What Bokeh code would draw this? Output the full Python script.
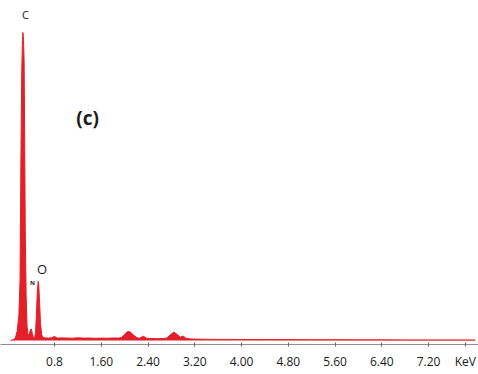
from bokeh.plotting import figure
from bokeh.models import FixedTicker, Label, Range1d
from bokeh.embed import file_html
from bokeh.resources import INLINE

# Spectrum (energy in keV, counts in arbitrary units)
energy = [0.05, 0.10, 0.13, 0.16, 0.19, 0.21, 0.225, 0.24, 0.25, 0.26, 0.27,
          0.28, 0.29, 0.30, 0.315, 0.33, 0.345, 0.36, 0.375, 0.39, 0.405,
          0.42, 0.44, 0.46, 0.475, 0.49, 0.505, 0.52, 0.53, 0.545, 0.56,
          0.58, 0.60, 0.65, 0.70, 0.75, 0.80, 0.85, 0.90, 1.00, 1.10, 1.20,
          1.30, 1.40, 1.50, 1.60, 1.70, 1.80, 1.90, 1.95, 2.00, 2.05, 2.10,
          2.15, 2.20, 2.25, 2.32, 2.38, 2.45, 2.55, 2.65, 2.72, 2.78, 2.84,
          2.90, 2.95, 3.00, 3.05, 3.12, 3.20, 3.40, 3.60, 3.80, 4.00, 4.40,
          4.80, 5.20, 5.60, 6.00, 6.40, 6.80, 7.20, 7.60, 8.00]
counts = [0, 10, 25, 90, 250, 600, 1800, 2700, 2950, 3080, 3000,
          2800, 2000, 1100, 450, 150, 60, 55, 80, 110, 115,
          70, 30, 28, 80, 250, 480, 590, 560, 380, 180,
          60, 30, 26, 24, 28, 40, 24, 26, 25, 23, 27,
          24, 25, 22, 24, 23, 25, 24, 32, 60, 90, 85,
          55, 32, 22, 42, 22, 20, 18, 20, 24, 55, 84,
          60, 32, 45, 22, 16, 14, 12, 11, 11, 10, 9,
          9, 8, 8, 7, 7, 6, 6, 6, 5]

tick_values = [0.8, 1.6, 2.4, 3.2, 4.0, 4.8, 5.6, 6.4, 7.2, 7.83]
tick_labels = ["0.8", "1.60", "2.40", "3.20", "4.00", "4.80", "5.60", "6.40",
               "7.20", "KeV"]

RED = "#e3202a"
FONT = "Open Sans"

p = figure(frame_width=478, frame_height=344, output_backend="svg",
           toolbar_location=None, min_border=0, min_border_bottom=30,
           x_range=Range1d(-0.124, 8.055), y_range=Range1d(-40, 3400))
p.outline_line_color = None
p.grid.visible = False
p.yaxis.visible = False

p.varea(x=energy, y1=0, y2=counts, color=RED)
p.line(x=energy, y=counts, color=RED, line_width=1)

ax = p.xaxis[0]
ax.ticker = FixedTicker(ticks=tick_values)
ax.major_label_overrides = {t: l for t, l in zip(tick_values, tick_labels)}
ax.minor_tick_line_color = None
ax.axis_line_color = "#8f8f8f"
ax.major_tick_line_color = "#666666"
ax.major_tick_in = 2
ax.major_tick_out = 2
ax.major_label_standoff = 6
ax.major_label_text_font = FONT
ax.major_label_text_font_size = "12px"
ax.major_label_text_color = "#1a1a1a"

def add_label(x, y, text, size, bold=False):
    p.add_layout(Label(x=x, y=y, text=text, text_font=FONT, text_font_size=size,
                       text_font_style="bold" if bold else "normal",
                       text_color="#1a1a1a", text_align="center",
                       text_baseline="middle"))

add_label(0.304, 3265, "C", "11px")
add_label(0.586, 720, "O", "13px")
add_label(0.424, 580, "N", "6px", bold=True)
add_label(1.365, 2230, "(c)", "19px", bold=True)

open("out.html", "w").write(file_html(p, INLINE))
